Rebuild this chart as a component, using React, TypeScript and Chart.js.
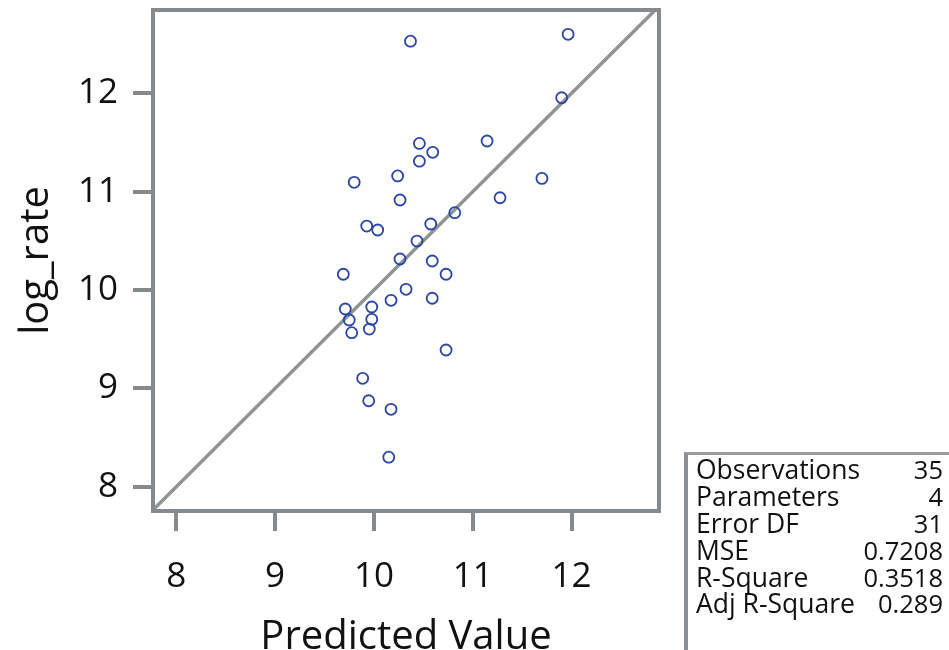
import { useEffect, useRef } from "react";
import { Chart, registerables } from "chart.js";

Chart.register(...registerables);

// Predicted value vs. observed log_rate, one entry per observation
const predicted = [
  10.37, 11.965, 11.9, 10.46, 10.595, 10.46, 11.145, 10.24, 9.8, 11.7,
  10.264, 11.276, 10.818, 9.927, 10.038, 10.575, 10.436, 10.264, 10.59, 10.73,
  9.69, 10.325, 10.59, 10.173, 9.71, 9.978, 9.75, 9.978, 9.953, 9.775,
  10.73, 9.886, 9.947, 10.173, 10.15,
];
const logRate = [
  12.53, 12.6, 11.955, 11.49, 11.4, 11.31, 11.515, 11.16, 11.095, 11.135,
  10.915, 10.938, 10.786, 10.65, 10.61, 10.671, 10.498, 10.315, 10.295, 10.16,
  10.16, 10.007, 9.916, 9.895, 9.807, 9.827, 9.695, 9.702, 9.603, 9.566,
  9.39, 9.102, 8.874, 8.787, 8.3,
];

const tickValues = [8, 9, 10, 11, 12];
const X_MIN = 7.764;
const X_MAX = 12.885;
const Y_MIN = 7.753;
const Y_MAX = 12.847;

const statLabels = ["Observations", "Parameters", "Error DF", "MSE", "R-Square", "Adj R-Square"];
const statValues = ["35", "4", "31", "0.7208", "0.3518", "0.289"];

const FONT = "'Open Sans', 'Noto Sans', sans-serif";
const FRAME = "#878a8c";
const MARKER = "#2a45a3";
const FIT = "#8c9594";
const TEXT = "#111111";

const framePlugin = {
  id: "frame",
  afterDatasetsDraw(chart: any) {
    const { ctx, chartArea } = chart;
    ctx.save();
    ctx.strokeStyle = FRAME;
    ctx.lineWidth = 4;
    ctx.strokeRect(
      chartArea.left,
      chartArea.top,
      chartArea.right - chartArea.left,
      chartArea.bottom - chartArea.top
    );
    ctx.restore();
  },
};

function FitPlot() {
  const canvasRef = useRef<HTMLCanvasElement | null>(null);

  useEffect(() => {
    const canvas = canvasRef.current;
    if (!canvas) return;
    const points = predicted.map((x, i) => ({ x, y: logRate[i] }));
    const diagonal = [
      { x: X_MIN, y: X_MIN },
      { x: X_MAX, y: X_MAX },
    ];
    const fixedTicks = (scale: any) => {
      scale.ticks = tickValues.map((value) => ({ value }));
    };
    const chart = new Chart(canvas, {
      type: "scatter",
      data: {
        datasets: [
          {
            type: "scatter",
            data: points,
            pointStyle: "circle",
            pointRadius: 5.5,
            pointBorderWidth: 1.8,
            pointBorderColor: MARKER,
            pointBackgroundColor: "rgba(0,0,0,0)",
            order: 1,
          },
          {
            type: "line",
            data: diagonal,
            borderColor: FIT,
            borderWidth: 3.5,
            pointRadius: 0,
            fill: false,
            order: 2,
          },
        ],
      },
      options: {
        responsive: false,
        animation: false,
        events: [],
        layout: { padding: { left: 0, top: 10, right: 290, bottom: 0 } },
        plugins: { legend: { display: false }, tooltip: { enabled: false } },
        scales: {
          x: {
            type: "linear",
            min: X_MIN,
            max: X_MAX,
            afterBuildTicks: fixedTicks,
            afterFit: (s: any) => {
              s.height = 139;
              s.paddingLeft = 0;
              s.paddingRight = 0;
            },
            border: { display: false },
            grid: {
              drawOnChartArea: false,
              drawTicks: true,
              tickLength: 20,
              lineWidth: 4,
              color: FRAME,
            },
            ticks: {
              autoSkip: false,
              maxRotation: 0,
              padding: 25,
              color: TEXT,
              font: { family: FONT, size: 35 },
            },
            title: {
              display: true,
              text: "Predicted Value",
              color: TEXT,
              font: { family: FONT, size: 40, lineHeight: 1 },
              padding: { top: 0, bottom: -8 },
            },
          },
          y: {
            type: "linear",
            min: Y_MIN,
            max: Y_MAX,
            afterBuildTicks: fixedTicks,
            afterFit: (s: any) => {
              s.width = 153;
              s.paddingTop = 0;
              s.paddingBottom = 0;
            },
            border: { display: false },
            grid: {
              drawOnChartArea: false,
              drawTicks: true,
              tickLength: 20,
              lineWidth: 4,
              color: FRAME,
            },
            ticks: {
              autoSkip: false,
              padding: 15,
              color: TEXT,
              font: { family: FONT, size: 35 },
            },
            title: {
              display: true,
              text: "log_rate",
              color: TEXT,
              font: { family: FONT, size: 40, lineHeight: 1 },
              padding: { top: 17, bottom: 0 },
            },
          },
        },
      },
      plugins: [framePlugin],
    });
    return () => chart.destroy();
  }, []);

  return (
    <canvas
      ref={canvasRef}
      width={949}
      height={650}
      style={{ position: "absolute", left: 0, top: 0, display: "block" }}
    />
  );
}

function StatsTable() {
  return (
    <div
      style={{
        position: "absolute",
        left: 684,
        top: 452,
        width: 300,
        height: 260,
        borderLeft: "4px solid #8d9092",
        borderTop: "3px solid #9a9c9e",
        fontFamily: FONT,
        color: TEXT,
        boxSizing: "border-box",
        paddingTop: 1,
      }}
    >
      {statLabels.map((label, i) => (
        <div
          key={label}
          style={{ position: "relative", height: 26.9, lineHeight: "26.9px", whiteSpace: "nowrap" }}
        >
          <span style={{ position: "absolute", left: 8, fontSize: 26.5 }}>{label}</span>
          <span
            style={{
              position: "absolute",
              right: 300 - 943 + 684,
              textAlign: "right",
              fontSize: 25.5,
            }}
          >
            {statValues[i]}
          </span>
        </div>
      ))}
    </div>
  );
}

export default function App() {
  return (
    <div
      style={{
        position: "fixed",
        left: 0,
        top: 0,
        width: 949,
        height: 650,
        overflow: "hidden",
        background: "#ffffff",
      }}
    >
      <FitPlot />
      <StatsTable />
    </div>
  );
}
